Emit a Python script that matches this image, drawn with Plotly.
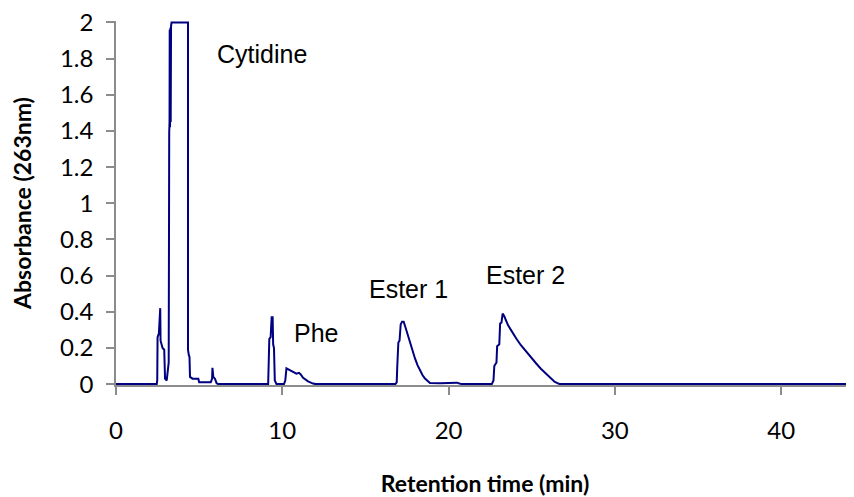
import plotly.graph_objects as go

# Retention time (min) and absorbance (263 nm)
time_min = [0, 2.45, 2.48, 2.50, 2.58, 2.62, 2.66, 2.68, 2.80, 2.90, 2.95, 3.05, 3.12, 3.17,
            3.20, 3.22, 3.23, 3.25, 3.27, 3.29, 3.31, 3.34, 4.33, 4.33, 4.38, 4.42, 4.45,
            4.60, 4.95, 5.00, 5.70, 5.78, 5.80, 5.85, 5.95, 6.05, 6.15,
            9.15, 9.22, 9.30, 9.36, 9.42, 9.45, 9.50, 9.55, 9.65,
            10.10, 10.18, 10.25, 10.40, 10.55, 10.70, 10.85, 11.00, 11.10, 11.25, 11.40,
            11.55, 11.85, 12.00,
            16.80, 16.88, 16.92, 16.98, 17.05, 17.12, 17.20, 17.30, 17.42, 17.55, 17.68,
            17.83, 17.98, 18.13, 18.28, 18.43, 18.58, 18.75, 18.88, 19.50, 20.10, 20.20,
            20.50, 20.60, 20.80,
            22.60, 22.70, 22.75, 22.88, 22.92, 23.05, 23.10, 23.18, 23.25, 23.35, 23.57,
            23.80, 24.07, 24.35, 24.67, 24.95, 25.27, 25.55, 25.87, 26.10, 26.37, 26.60,
            26.70, 45.0]
absorbance = [0, 0, 0.02, 0.26, 0.28, 0.42, 0.42, 0.24, 0.20, 0.19, 0.03, 0.02, 0.08, 0.12,
              1.39, 1.45, 1.96, 1.42, 1.97, 1.45, 1.98, 2.0, 2.0, 0.19, 0.16, 0.15, 0.04,
              0.03, 0.03, 0.01, 0.01, 0.03, 0.09, 0.04, 0.03, 0.005, 0,
              0, 0.25, 0.26, 0.37, 0.37, 0.22, 0.20, 0.02, 0,
              0, 0.02, 0.087, 0.08, 0.07, 0.065, 0.058, 0.062, 0.055, 0.035, 0.025,
              0.015, 0.003, 0,
              0, 0.01, 0.11, 0.23, 0.24, 0.33, 0.345, 0.345, 0.31, 0.27, 0.225,
              0.18, 0.142, 0.105, 0.077, 0.05, 0.031, 0.015, 0.006, 0.005, 0.006, 0.01,
              0.008, 0.005, 0,
              0, 0.02, 0.10, 0.12, 0.21, 0.22, 0.335, 0.34, 0.39, 0.375, 0.326,
              0.29, 0.252, 0.215, 0.178, 0.145, 0.114, 0.085, 0.055, 0.033, 0.013, 0.003,
              0, 0]

peak_labels = ["Cytidine", "Phe", "Ester 1", "Ester 2"]
label_x = [8.78, 12.03, 17.56, 24.6]
label_y = [1.823, 0.282, 0.525, 0.602]

x_ticks = [0, 10, 20, 30, 40]
y_ticks = [0, 0.2, 0.4, 0.6, 0.8, 1, 1.2, 1.4, 1.6, 1.8, 2]
y_tick_text = ["0", "0.2", "0.4", "0.6", "0.8", "1", "1.2", "1.4", "1.6", "1.8", "2"]

fig = go.Figure()
fig.add_trace(go.Scatter(x=time_min, y=absorbance, mode="lines",
                         line=dict(color="#000080", width=2), showlegend=False))

for txt, lx, ly in zip(peak_labels, label_x, label_y):
    fig.add_annotation(x=lx, y=ly, text=txt, showarrow=False,
                       font=dict(family="Liberation Sans, Arial, sans-serif", size=25, color="#000000"))

tick_font = dict(family="Lato, Open Sans, sans-serif", size=24, color="#000000")
title_font = dict(family="Lato, Open Sans, sans-serif", size=23, color="#000000", weight="bold")

fig.update_xaxes(range=[0, 44.38], tickvals=x_ticks, showgrid=False, zeroline=False,
                 showline=True, linecolor="#8c8c8c", linewidth=1.5,
                 ticks="outside", ticklen=8, tickcolor="#8c8c8c", tickwidth=1.5,
                 tickfont=tick_font, ticklabelstandoff=15, automargin=False,
                 ticklabeloverflow="allow",
                 title=dict(text="Retention time (min)", font=title_font, standoff=38))
fig.update_yaxes(range=[-0.005, 2.008], tickvals=y_ticks, ticktext=y_tick_text,
                 showgrid=False, zeroline=False,
                 showline=True, linecolor="#8c8c8c", linewidth=1.5,
                 ticks="outside", ticklen=8, tickcolor="#8c8c8c", tickwidth=1.5,
                 tickfont=tick_font, ticklabelstandoff=8, automargin=False,
                 ticklabeloverflow="allow",
                 title=dict(text="Absorbance (263nm)", font=title_font, standoff=25))

fig.update_layout(width=846, height=489, autosize=False,
                  margin=dict(l=108, r=0, t=13, b=112),
                  plot_bgcolor="#ffffff", paper_bgcolor="#ffffff")

fig.write_html("out.html")
